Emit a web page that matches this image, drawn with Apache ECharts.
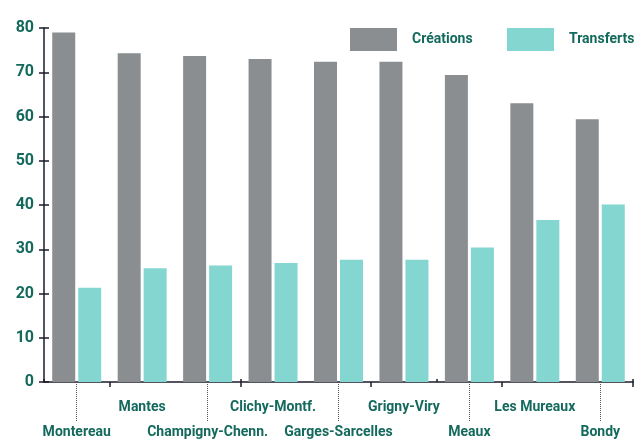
<!DOCTYPE html>
<html>
<head>
<meta charset="utf-8">
<script src="https://cdn.jsdelivr.net/npm/echarts@6/dist/echarts.min.js"></script>
<style>
  html, body { margin: 0; padding: 0; background: #fff; }
  #chart { width: 639px; height: 445px; }
</style>
</head>
<body>
<div id="chart"></div>
<script>
const communes = ['Montereau', 'Mantes', 'Champigny-Chenn.', 'Clichy-Montf.', 'Garges-Sarcelles', 'Grigny-Viry', 'Meaux', 'Les Mureaux', 'Bondy'];
const creations = [79, 74.3, 73.7, 73, 72.4, 72.4, 69.4, 63, 59.4];
const transferts = [21.3, 25.7, 26.3, 26.9, 27.6, 27.6, 30.4, 36.6, 40.1];
const yTicks = [0, 10, 20, 30, 40, 50, 60, 70, 80];

const textColor = '#13695c';
const axisColor = '#1c1c2c';
const font = 'Roboto, sans-serif';

const chart = echarts.init(document.getElementById('chart'));

const baseX = {
  type: 'category',
  data: communes,
  position: 'bottom',
  boundaryGap: true
};

const legendBase = {
  orient: 'horizontal',
  top: 28,
  padding: 0,
  itemWidth: 47,
  itemHeight: 23,
  icon: 'rect',
  textStyle: {
    color: textColor,
    fontFamily: font,
    fontWeight: 'bold',
    fontSize: 14,
    padding: [0, 0, 0, 10]
  }
};

const option = {
  animation: false,
  grid: { left: 44, right: 6, top: 28, bottom: 63 },
  legend: [
    Object.assign({}, legendBase, { left: 350, data: ['Créations'] }),
    Object.assign({}, legendBase, { left: 507, data: ['Transferts'] })
  ],
  xAxis: [
    Object.assign({}, baseX, {
      axisLine: { show: true, lineStyle: { color: axisColor, width: 1.5 } },
      axisTick: { show: true, length: 5, lineStyle: { color: axisColor, width: 1.5 } },
      axisLabel: {
        interval: (i) => i % 2 === 1,
        margin: 18,
        color: textColor,
        fontFamily: font,
        fontWeight: 'bold',
        fontSize: 14
      }
    }),
    Object.assign({}, baseX, {
      axisLine: { show: false },
      axisTick: {
        show: true,
        alignWithLabel: true,
        interval: (i) => i % 2 === 0,
        length: 40,
        lineStyle: { color: '#555', type: 'dotted', width: 1 }
      },
      axisLabel: {
        interval: (i) => i % 2 === 0,
        margin: 43,
        color: textColor,
        fontFamily: font,
        fontWeight: 'bold',
        fontSize: 14
      }
    }),
    Object.assign({}, baseX, {
      axisLine: { show: false },
      axisTick: { show: true, inside: true, length: 3, lineStyle: { color: axisColor, width: 1.5 } },
      axisLabel: { show: false }
    })
  ],
  yAxis: [
    {
      type: 'value',
      min: 0,
      max: 80,
      interval: 10,
      axisLine: { show: true, lineStyle: { color: axisColor, width: 1.5 } },
      axisTick: { show: true, length: 5, lineStyle: { color: axisColor, width: 1.5 } },
      splitLine: { show: false },
      axisLabel: {
        margin: 10,
        color: textColor,
        fontFamily: font,
        fontWeight: 'bold',
        fontSize: 16,
        formatter: (v) => (yTicks.includes(v) ? String(v) : '')
      }
    },
    {
      type: 'value',
      min: 0,
      max: 80,
      interval: 10,
      position: 'left',
      axisLine: { show: false },
      axisTick: { show: true, inside: true, length: 5, lineStyle: { color: axisColor, width: 1.5 } },
      splitLine: { show: false },
      axisLabel: { show: false }
    }
  ],
  series: [
    {
      name: 'Créations',
      type: 'bar',
      data: creations,
      barWidth: 23,
      barGap: '13%',
      itemStyle: { color: '#8b8e90' }
    },
    {
      name: 'Transferts',
      type: 'bar',
      data: transferts,
      barWidth: 23,
      barGap: '13%',
      itemStyle: { color: '#84d6d0' }
    }
  ]
};

chart.setOption(option);
</script>
</body>
</html>
